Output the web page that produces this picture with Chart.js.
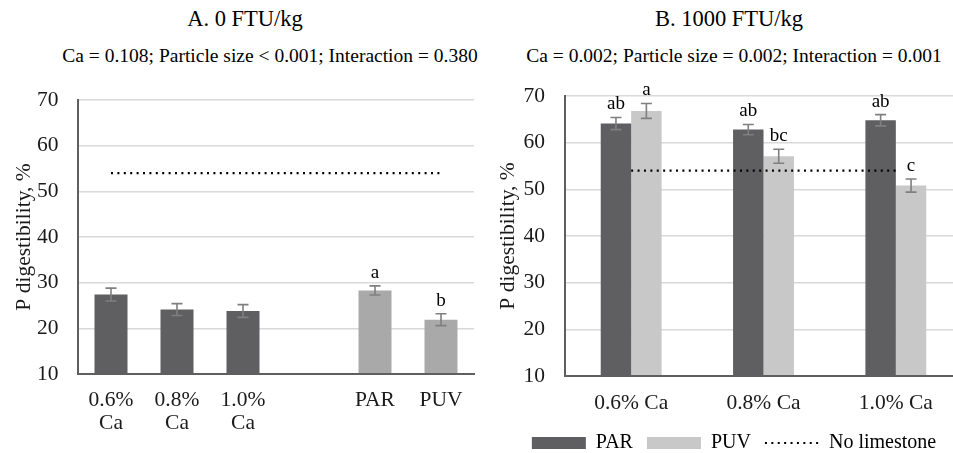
<!DOCTYPE html>
<html>
<head>
<meta charset="utf-8">
<script src="https://cdn.jsdelivr.net/npm/chart.js@4.4.1/dist/chart.umd.min.js"></script>
<style>
  html, body { margin: 0; padding: 0; background: #fff; }
  body { position: relative; width: 953px; height: 453px; overflow: hidden; color: #000; }
  canvas { position: absolute; top: 0; }
  .ttl, .sub { position: absolute; text-align: center; white-space: nowrap; font-family: 'Liberation Serif', serif; }
  .ttl { font-size: 22.5px; line-height: 26px; }
  .sub { font-size: 19.5px; line-height: 22px; }
</style>
</head>
<body>
<div class="ttl" style="left:45px;top:6px;width:400px">A. 0 FTU/kg</div>
<div class="sub" style="left:20px;top:45px;width:500px">Ca = 0.108; Particle size &lt; 0.001; Interaction = 0.380</div>
<div class="ttl" style="left:529px;top:6px;width:400px">B. 1000 FTU/kg</div>
<div class="sub" style="left:484px;top:45px;width:500px">Ca = 0.002; Particle size = 0.002; Interaction = 0.001</div>
<canvas id="chartA" width="490" height="453" style="left:0"></canvas>
<canvas id="chartB" width="475" height="463" style="left:490px"></canvas>
<script>
// panel A: 0 FTU/kg
const leftLabels = [['0.6%', 'Ca'], ['0.8%', 'Ca'], ['1.0%', 'Ca'], '', 'PAR', 'PUV'];
const leftValues = [27.4, 24.1, 23.8, null, 28.3, 21.9];
const leftErrors = [1.4, 1.3, 1.4, null, 1.0, 1.3];
const leftLetters = ['', '', '', '', 'a', 'b'];
const leftNoLimestone = [54, 54, 54, 54, 54, 54];

// panel B: 1000 FTU/kg
const rightLabels = ['0.6% Ca', '0.8% Ca', '1.0% Ca'];
const parValues = [64.1, 62.8, 64.8];
const parErrors = [1.3, 1.1, 1.2];
const parLetters = ['ab', 'ab', 'ab'];
const puvValues = [66.8, 57.1, 50.8];
const puvErrors = [1.6, 1.5, 1.4];
const puvLetters = ['a', 'bc', 'c'];
const rightNoLimestone = [54, 54, 54];

const yTicks = { min: 10, max: 70, step: 10 };

const serif = "'Liberation Serif', serif";
Chart.defaults.font.family = serif;
Chart.defaults.color = '#1a1a1a';

const DARK = '#5f5f61';
const MID = '#a9a9a9';
const LIGHT = '#c8c8c9';

// error bars + significance letters
const errorBars = {
  id: 'errorBars',
  afterDatasetsDraw(chart) {
    const ctx = chart.ctx;
    const y = chart.scales.y;
    chart.data.datasets.forEach((ds, i) => {
      if (!ds.errors) return;
      const meta = chart.getDatasetMeta(i);
      meta.data.forEach((bar, j) => {
        const v = ds.data[j], e = ds.errors[j];
        if (v == null || e == null) return;
        const top = y.getPixelForValue(v + e);
        const bot = y.getPixelForValue(v - e);
        ctx.save();
        ctx.strokeStyle = '#7f7f7f';
        ctx.lineWidth = 1.6;
        ctx.beginPath();
        ctx.moveTo(bar.x, top); ctx.lineTo(bar.x, bot);
        ctx.moveTo(bar.x - 5.5, top); ctx.lineTo(bar.x + 5.5, top);
        ctx.moveTo(bar.x - 5.5, bot); ctx.lineTo(bar.x + 5.5, bot);
        ctx.stroke();
        if (ds.letters && ds.letters[j]) {
          ctx.fillStyle = '#000';
          ctx.font = '19px ' + serif;
          ctx.textAlign = 'center';
          ctx.textBaseline = 'middle';
          ctx.fillText(ds.letters[j], bar.x, top - 13);
        }
        ctx.restore();
      });
    });
  }
};

function yScale(width, titlePad, labelPad) {
  return {
    min: yTicks.min,
    max: yTicks.max,
    afterFit: (s) => { s.width = width; },
    ticks: { stepSize: yTicks.step, padding: labelPad, font: { family: serif, size: 21.5 }, color: '#1a1a1a' },
    grid: { color: '#d9d9d9', lineWidth: 1.5, drawTicks: false },
    border: { display: true, color: '#5f5f5f', width: 2, z: 1 },
    title: { display: true, text: 'P digestibility, %', font: { family: serif, size: 21.5 }, color: '#1a1a1a', padding: { top: titlePad, bottom: 0 } }
  };
}

function xScale(height, labelPad) {
  return {
    afterFit: (s) => { s.height = height; },
    ticks: { padding: labelPad, autoSkip: false, maxRotation: 0, font: { family: serif, size: 21.5, lineHeight: 1.07 }, color: '#1a1a1a' },
    grid: { display: false, drawTicks: false },
    border: { display: true, color: '#5f5f5f', width: 2, z: 1 }
  };
}

const dotted = { borderColor: '#000', borderWidth: 2.2, borderDash: [2, 4.4], pointRadius: 0, fill: false };

new Chart(document.getElementById('chartA').getContext('2d'), {
  type: 'bar',
  data: {
    labels: leftLabels,
    datasets: [
      Object.assign({ type: 'line', label: 'No limestone', data: leftNoLimestone, order: -1 }, dotted),
      {
        label: 'P digestibility',
        data: leftValues,
        errors: leftErrors,
        letters: leftLetters,
        backgroundColor: [DARK, DARK, DARK, DARK, MID, MID],
        categoryPercentage: 1,
        barPercentage: 0.5
      }
    ]
  },
  options: {
    responsive: false,
    animation: false,
    layout: { padding: { top: 100, right: 16, bottom: 0, left: 0 } },
    scales: { x: xScale(79, 14.5), y: yScale(78, 11.2, 19.5) },
    plugins: { legend: { display: false }, tooltip: { enabled: false } }
  },
  plugins: [errorBars]
});

new Chart(document.getElementById('chartB').getContext('2d'), {
  type: 'bar',
  data: {
    labels: rightLabels,
    datasets: [
      { label: 'PAR', data: parValues, errors: parErrors, letters: parLetters, backgroundColor: DARK, categoryPercentage: 0.46, barPercentage: 1 },
      { label: 'PUV', data: puvValues, errors: puvErrors, letters: puvLetters, backgroundColor: LIGHT, categoryPercentage: 0.46, barPercentage: 1 },
      Object.assign({ type: 'line', label: 'No limestone', data: rightNoLimestone, order: -1 }, dotted)
    ]
  },
  options: {
    responsive: false,
    animation: false,
    layout: { padding: { top: 96, right: 3, bottom: 0, left: 16 } },
    scales: { x: xScale(43, 15.5), y: yScale(59, -10.5, 20) },
    plugins: {
      tooltip: { enabled: false },
      legend: {
        position: 'bottom',
        labels: {
          usePointStyle: true,
          pointStyleWidth: 54,
          boxHeight: 12,
          padding: 14,
          color: '#000',
          font: { family: serif, size: 20 },
          sort: (a, b) => a.datasetIndex - b.datasetIndex,
          generateLabels: function (chart) {
            const items = Chart.defaults.plugins.legend.labels.generateLabels(chart);
            items.forEach(function (item) {
              if (item.text === 'No limestone') {
                item.pointStyle = 'line';
                item.lineWidth = 2.2;
                item.lineDash = [2, 4.4];
                item.strokeStyle = '#000';
              } else {
                item.pointStyle = 'rect';
                item.lineWidth = 0;
              }
            });
            return items;
          }
        }
      }
    }
  },
  plugins: [errorBars]
});
</script>
</body>
</html>
